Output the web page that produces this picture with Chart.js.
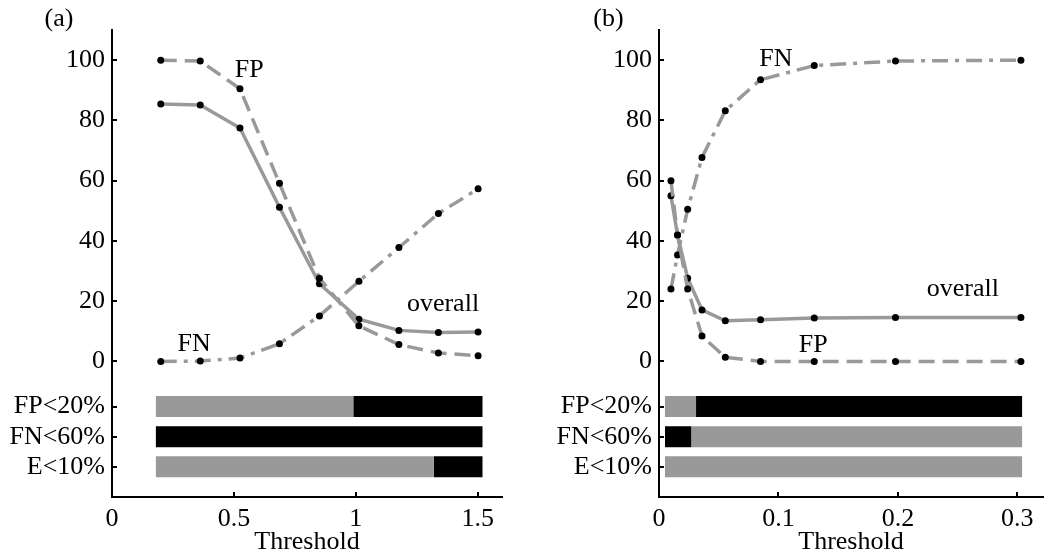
<!DOCTYPE html>
<html><head><meta charset="utf-8">
<script src="https://cdn.jsdelivr.net/npm/chart.js@4/dist/chart.umd.min.js"></script>
<style>
html,body{margin:0;padding:0;background:#fff;width:1047px;height:556px;overflow:hidden}
#wa{position:absolute;left:0;top:0;width:523px;height:556px}
#wb{position:absolute;left:523px;top:0;width:524px;height:556px}
</style></head><body>
<div id="wa"><canvas id="ca" width="523" height="556"></canvas></div>
<div id="wb"><canvas id="cb" width="524" height="556"></canvas></div>
<script>
// ---------- data ----------
const thresholdsA = [0.2, 0.362, 0.525, 0.687, 0.851, 1.013, 1.177, 1.339, 1.502];
const fpA      = [100, 99.7, 90.5, 59.1, 27.6, 11.8, 5.6, 2.8, 1.9];
const overallA = [85.4, 85.1, 77.5, 51.2, 25.8, 14.0, 10.3, 9.6, 9.8];
const fnA      = [0, 0.1, 1.1, 5.9, 15.1, 26.6, 37.8, 49.1, 57.3];

const thresholdsB = [0.01, 0.0155, 0.024, 0.036, 0.0555, 0.085, 0.13, 0.198, 0.303];
const fpB      = [60, 42, 24, 8.4, 1.4, 0, 0, 0, 0];
const overallB = [55, 42, 27.6, 17.1, 13.5, 13.8, 14.4, 14.6, 14.6];
const fnB      = [24, 35.3, 50.5, 67.7, 83.2, 93.5, 98.2, 99.7, 100];

// criteria rows: [start, end, met]
const rowLabels = ['FP<20%', 'FN<60%', 'E<10%'];
const rowValues = [-15, -25, -35];
const rowsA = [
  [[0.18, 0.99, false], [0.99, 1.52, true]],
  [[0.18, 1.52, true]],
  [[0.18, 1.32, false], [1.32, 1.52, true]]
];
const rowsB = [
  [[0.005, 0.031, false], [0.031, 0.304, true]],
  [[0.005, 0.027, true], [0.027, 0.304, false]],
  [[0.005, 0.304, false]]
];

const yTicks = [-35, -25, -15, 0, 20, 40, 60, 80, 100];
const xTicksA = [0, 0.5, 1, 1.5];
const xTicksB = [0, 0.1, 0.2, 0.3];

const notesA = [
  {text: 'FP', x: 0.563, y: 94.3},
  {text: 'FN', x: 0.337, y: 3.6},
  {text: 'overall', x: 1.358, y: 16.8}
];
const notesB = [
  {text: 'FN', x: 0.0978, y: 98.0},
  {text: 'overall', x: 0.2544, y: 21.8},
  {text: 'FP', x: 0.1292, y: 3.0}
];

// ---------- styles ----------
const FAM = '"Liberation Serif", "Times New Roman", serif';
const GRAY = '#999999';

function series(xs, ys, dash) {
  return {
    type: 'line',
    data: xs.map((x, i) => ({x: x, y: ys[i]})),
    borderColor: GRAY, borderWidth: 3.5, borderDash: dash,
    pointRadius: 3.5, pointBackgroundColor: '#000', pointBorderWidth: 0,
    tension: 0, clip: false, fill: false
  };
}
function bars(rows) {
  const out = [];
  rows.forEach((segs, r) => segs.forEach(s => out.push({
    type: 'line',
    data: [{x: s[0], y: rowValues[r]}, {x: s[1], y: rowValues[r]}],
    borderColor: s[2] ? '#000' : GRAY, borderWidth: 21, borderCapStyle: 'butt',
    pointRadius: 0, tension: 0, clip: false, fill: false
  })));
  return out;
}
function decor(notes, panel, panelX) {
  return {
    id: 'decor',
    afterDraw(chart) {
      const ctx = chart.ctx, xs = chart.scales.x, ys = chart.scales.y;
      ctx.save();
      ctx.strokeStyle = '#000'; ctx.lineWidth = 2;
      ys.ticks.forEach(t => {
        const p = Math.round(ys.getPixelForValue(t.value));
        ctx.beginPath(); ctx.moveTo(xs.left, p); ctx.lineTo(xs.left + 5, p); ctx.stroke();
      });
      xs.ticks.forEach(t => {
        const p = Math.round(xs.getPixelForValue(t.value));
        ctx.beginPath(); ctx.moveTo(p, ys.bottom); ctx.lineTo(p, ys.bottom - 5); ctx.stroke();
      });
      ctx.fillStyle = '#000';
      ctx.font = '26px ' + FAM;
      ctx.textAlign = 'center'; ctx.textBaseline = 'alphabetic';
      notes.forEach(n => ctx.fillText(n.text, xs.getPixelForValue(n.x), ys.getPixelForValue(n.y)));
      ctx.fillText(panel, panelX, 26);
      ctx.restore();
    }
  };
}
function makeChart(id, xs, fp, ov, fn, rows, xTicks, xMax, yW, padR, notes, panel, panelX) {
  const ds = [series(xs, fp, [16, 8]), series(xs, ov, []), series(xs, fn, [16, 7, 4, 7])].concat(bars(rows));
  return new Chart(document.getElementById(id), {
    type: 'line',
    data: {datasets: ds},
    plugins: [decor(notes, panel, panelX)],
    options: {
      responsive: false, animation: false, devicePixelRatio: 1,
      layout: {padding: {top: 30, right: padR, left: 0, bottom: 0}},
      plugins: {legend: {display: false}, tooltip: {enabled: false}},
      scales: {
        x: {
          type: 'linear', min: 0, max: xMax,
          afterBuildTicks: s => { s.ticks = xTicks.map(v => ({value: v})); },
          afterFit: s => { s.height = 59; },
          ticks: {font: {family: FAM, size: 26}, color: '#000', padding: 7, maxRotation: 0, autoSkip: false,
                  callback: v => String(v)},
          grid: {display: true, drawOnChartArea: false, drawTicks: false},
          border: {display: true, color: '#000', width: 2},
          title: {display: true, text: 'Threshold', color: '#000',
                  font: {family: FAM, size: 26, lineHeight: 1}, padding: {top: 0, bottom: 1}}
        },
        y: {
          type: 'linear', min: -45, max: 110,
          afterBuildTicks: s => { s.ticks = yTicks.map(v => ({value: v})); },
          afterFit: s => { s.width = yW; },
          ticks: {font: {family: FAM, size: 26}, color: '#000', padding: 7, autoSkip: false,
                  callback: v => { const k = rowValues.indexOf(v); return k >= 0 ? rowLabels[k] : String(v); }},
          grid: {display: true, drawOnChartArea: false, drawTicks: false},
          border: {display: true, color: '#000', width: 2}
        }
      }
    }
  });
}
makeChart('ca', thresholdsA, fpA, overallA, fnA, rowsA, xTicksA, 1.6, 112, 21, notesA, '(a)', 59);
makeChart('cb', thresholdsB, fpB, overallB, fnB, rowsB, xTicksB, 0.3215, 136, 0, notesB, '(b)', 85.5);
</script>
</body></html>
